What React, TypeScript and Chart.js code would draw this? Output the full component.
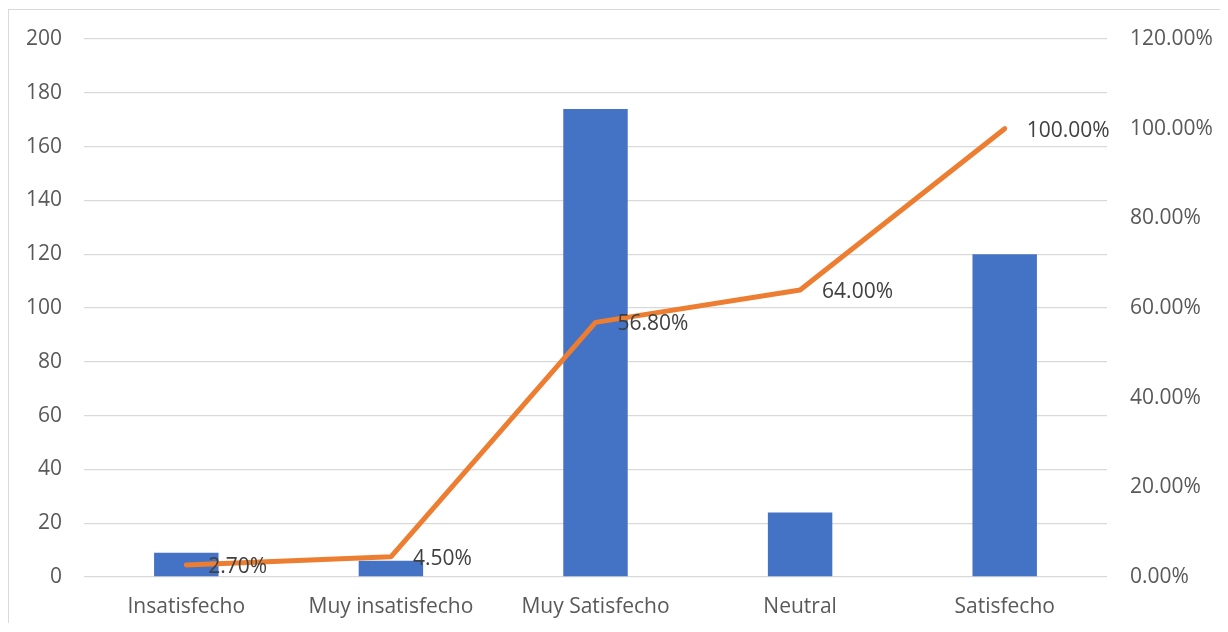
import React, { useEffect, useRef } from "react";
import { Chart, registerables } from "chart.js";

Chart.register(...registerables);

// Satisfaction survey: response counts per category and cumulative percentage
const categories = ["Insatisfecho", "Muy insatisfecho", "Muy Satisfecho", "Neutral", "Satisfecho"];
const counts = [9, 6, 174, 24, 120];
const cumulativePct = [2.7, 4.5, 56.8, 64.0, 100.0];
const leftTicks = [0, 20, 40, 60, 80, 100, 120, 140, 160, 180, 200];
const rightTicks = [0, 20, 40, 60, 80, 100, 120];

const FONT = "'Open Sans', 'Noto Sans', sans-serif";
const FONT_SIZE = 21;
const CANVAS_W = 1211;
const CANVAS_H = 614;

// Draws the percentage next to each point of the cumulative line
const pointLabels = {
  id: "pointLabels",
  afterDatasetsDraw(chart: any) {
    const meta = chart.getDatasetMeta(1);
    const ctx = chart.ctx;
    ctx.save();
    ctx.font = `${FONT_SIZE}px ${FONT}`;
    ctx.fillStyle = "#404040";
    ctx.textAlign = "left";
    ctx.textBaseline = "middle";
    meta.data.forEach((pt: any, i: number) => {
      ctx.fillText(cumulativePct[i].toFixed(2) + "%", pt.x + 22, pt.y + 2);
    });
    ctx.restore();
  },
};

export default function App() {
  const ref = useRef<HTMLCanvasElement | null>(null);

  useEffect(() => {
    if (!ref.current) return;
    const chart = new Chart(ref.current, {
      type: "bar",
      data: {
        labels: categories,
        datasets: [
          {
            type: "bar",
            data: counts,
            backgroundColor: "#4472C4",
            barPercentage: 0.315,
            categoryPercentage: 1,
            yAxisID: "y",
            order: 2,
          },
          {
            type: "line",
            data: cumulativePct,
            borderColor: "#ED7D31",
            borderWidth: 5,
            borderCapStyle: "round",
            borderJoinStyle: "round",
            pointRadius: 0,
            fill: false,
            tension: 0,
            yAxisID: "y1",
            order: 1,
          },
        ],
      },
      options: {
        responsive: false,
        animation: false,
        layout: { padding: { top: 29, left: 0, right: 0, bottom: 0 } },
        plugins: { legend: { display: false }, tooltip: { enabled: false } },
        scales: {
          x: {
            grid: { display: false, drawTicks: false },
            border: { display: false },
            ticks: { color: "#595959", font: { family: FONT, size: FONT_SIZE }, padding: 17 },
            afterFit(scale: any) {
              scale.height = CANVAS_H - 567;
            },
          },
          y: {
            position: "left",
            min: 0,
            max: 200,
            afterBuildTicks(scale: any) {
              scale.ticks = leftTicks.map((v) => ({ value: v }));
            },
            grid: { color: "#d9d9d9", lineWidth: 1.3, drawTicks: false },
            border: { display: false },
            ticks: { color: "#595959", font: { family: FONT, size: FONT_SIZE }, padding: 22 },
            afterFit(scale: any) {
              scale.width = 75;
              scale.paddingTop = 0;
              scale.paddingBottom = 0;
            },
          },
          y1: {
            position: "right",
            min: 0,
            max: 120,
            afterBuildTicks(scale: any) {
              scale.ticks = rightTicks.map((v) => ({ value: v }));
            },
            grid: { display: false, drawTicks: false },
            border: { display: false },
            ticks: {
              color: "#595959",
              font: { family: FONT, size: FONT_SIZE },
              padding: 23,
              callback: (v: any) => Number(v).toFixed(2) + "%",
            },
            afterFit(scale: any) {
              scale.width = CANVAS_W - 1098;
              scale.paddingTop = 0;
              scale.paddingBottom = 0;
            },
          },
        },
      },
      plugins: [pointLabels],
    } as any);
    return () => chart.destroy();
  }, []);

  return (
    <div
      style={{
        position: "relative",
        top: 1,
        borderTop: "1px solid #d9d9d9",
        borderLeft: "1px solid #d9d9d9",
        width: CANVAS_W,
        height: CANVAS_H,
      }}
    >
      <canvas ref={ref} width={CANVAS_W} height={CANVAS_H} style={{ display: "block" }} />
    </div>
  );
}
